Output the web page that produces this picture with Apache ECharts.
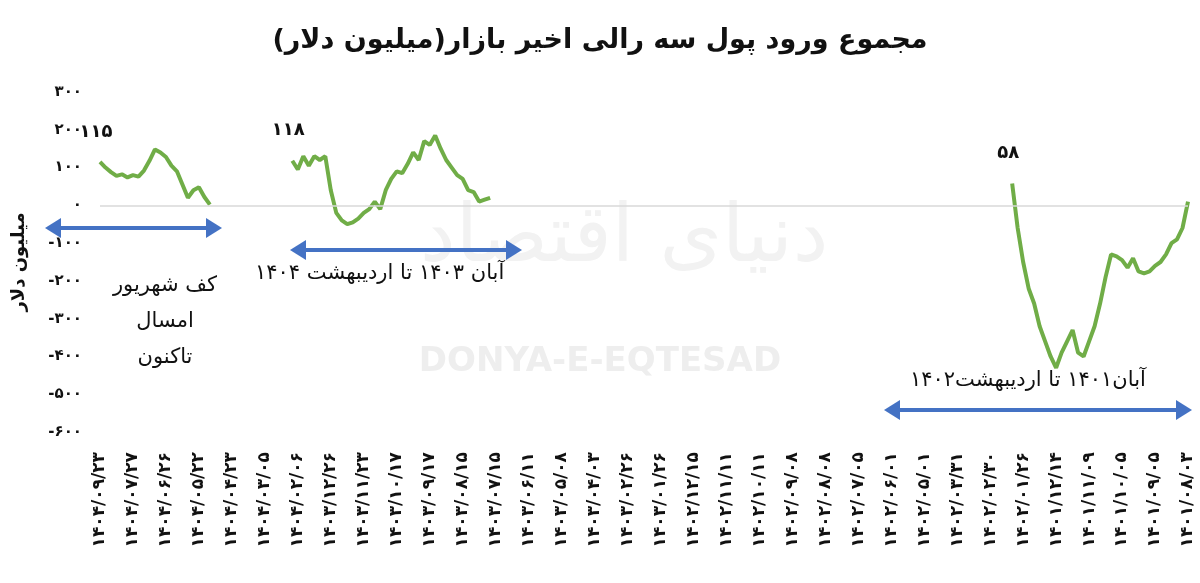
<!DOCTYPE html>
<html>
<head>
<meta charset="UTF-8">
<title>chart</title>
<script src="https://cdn.jsdelivr.net/npm/echarts@6/dist/echarts.min.js"></script>
<style>html,body{margin:0;padding:0;background:#fff}#main{width:1200px;height:583px}</style>
</head>
<body>
<div id="main"></div>
<script>
// tick dates, left to right (newest first)
var tickDates = ['۱۴۰۴/۰۹/۲۳','۱۴۰۴/۰۷/۲۷','۱۴۰۴/۰۶/۲۶','۱۴۰۴/۰۵/۲۲','۱۴۰۴/۰۴/۲۳','۱۴۰۴/۰۳/۰۵','۱۴۰۴/۰۲/۰۶',
  '۱۴۰۳/۱۲/۲۶','۱۴۰۳/۱۱/۲۳','۱۴۰۳/۱۰/۱۷','۱۴۰۳/۰۹/۱۷','۱۴۰۳/۰۸/۱۵','۱۴۰۳/۰۷/۱۵','۱۴۰۳/۰۶/۱۱','۱۴۰۳/۰۵/۰۸','۱۴۰۳/۰۴/۰۳',
  '۱۴۰۳/۰۲/۲۶','۱۴۰۳/۰۱/۲۶','۱۴۰۲/۱۲/۱۵','۱۴۰۲/۱۱/۱۱','۱۴۰۲/۱۰/۱۱','۱۴۰۲/۰۹/۰۸','۱۴۰۲/۰۸/۰۸','۱۴۰۲/۰۷/۰۵',
  '۱۴۰۲/۰۶/۰۱','۱۴۰۲/۰۵/۰۱','۱۴۰۲/۰۳/۳۱','۱۴۰۲/۰۲/۳۰','۱۴۰۲/۰۱/۲۶','۱۴۰۱/۱۲/۱۴','۱۴۰۱/۱۱/۰۹','۱۴۰۱/۱۰/۰۵',
  '۱۴۰۱/۰۹/۰۵','۱۴۰۱/۰۸/۰۳'];
var stepsPerTick = 6;

// three periods (values in million dollars), with start index on the sample axis
var seg1Start = 0;
var seg1 = [115,100,88,78,82,74,80,76,92,118,148,140,128,105,90,55,20,40,48,22,2];
var seg2Start = 35;
var seg2 = [118,95,130,105,130,120,130,40,-20,-40,-50,-45,-35,-20,-10,10,-10,40,70,90,85,110,140,120,170,160,185,150,120,100,80,70,40,35,10,15,20];
var seg3Start = 166;
var seg3 = [58,-60,-150,-220,-260,-320,-360,-400,-430,-390,-360,-330,-390,-400,-360,-320,-260,-190,-130,-135,-145,-165,-140,-175,-180,-175,-160,-150,-130,-100,-90,-60,10];

function fa(s){return String(s).replace(/\d/g,function(d){return '۰۱۲۳۴۵۶۷۸۹'[d];});}

var n = (tickDates.length - 1) * stepsPerTick + 1;
var cats = [];
for (var i = 0; i < n; i++) cats.push(i % stepsPerTick === 0 ? tickDates[i / stepsPerTick] : '');
var data = [];
for (var i = 0; i < n; i++) data.push('-');
var startPoints = [];
function put(start, arr){
  for (var k = 0; k < arr.length; k++) data[start + k] = arr[k];
  startPoints.push({coord: [start, arr[0]], value: fa(arr[0])});
}
put(seg1Start, seg1); put(seg2Start, seg2); put(seg3Start, seg3);

function arrow(x1, x2, y){
  var c = '#4472c4';
  return [
    {type: 'line', shape: {x1: x1 + 12, y1: y, x2: x2 - 12, y2: y}, style: {stroke: c, lineWidth: 4}},
    {type: 'polygon', shape: {points: [[x1, y], [x1 + 16, y - 10], [x1 + 16, y + 10]]}, style: {fill: c}},
    {type: 'polygon', shape: {points: [[x2, y], [x2 - 16, y - 10], [x2 - 16, y + 10]]}, style: {fill: c}}
  ];
}
var txt = {fontFamily: 'DejaVu Sans', fontSize: 21, fill: '#111'};

var chart = echarts.init(document.getElementById('main'));
chart.setOption({
  animation: false,
  title: {text: 'مجموع ورود پول سه رالی اخیر بازار(میلیون دلار)', left: 'center', top: 22,
    textStyle: {fontFamily: 'DejaVu Sans', fontSize: 27, fontWeight: 'bold', color: '#111'}},
  grid: {left: 100, right: 12, top: 92, bottom: 151},
  xAxis: {type: 'category', data: cats, boundaryGap: false,
    axisLine: {show: false}, axisTick: {show: false},
    axisLabel: {interval: 0, rotate: 90, fontSize: 17, fontWeight: 'bold', color: '#111', fontFamily: 'DejaVu Sans', margin: 20}},
  yAxis: {type: 'value', min: -600, max: 300, interval: 100,
    name: 'میلیون دلار', nameLocation: 'middle', nameGap: 72, nameRotate: 90,
    nameTextStyle: {fontFamily: 'DejaVu Sans', fontSize: 18, fontWeight: 'bold', color: '#111'},
    splitLine: {show: false}, axisLine: {show: false}, axisTick: {show: false},
    axisLabel: {formatter: function(v){return fa(v);}, fontSize: 15, fontWeight: 'bold', color: '#111', fontFamily: 'DejaVu Sans', margin: 18}},
  series: [{type: 'line', data: data, showSymbol: false, connectNulls: false,
    lineStyle: {color: '#70ad47', width: 4}, itemStyle: {color: '#70ad47'},
    markPoint: {silent: true, symbol: 'circle', symbolSize: 0,
      label: {show: true, position: 'top', offset: [-4, -16], formatter: '{c}',
        fontSize: 18, fontWeight: 'bold', color: '#111', fontFamily: 'DejaVu Sans'},
      data: startPoints},
    markLine: {silent: true, symbol: 'none', label: {show: false},
      lineStyle: {color: '#d9d9d9', type: 'solid', width: 1.5}, data: [{yAxis: 0}]}}],
  graphic: [].concat(
    [{type: 'text', left: 'center', top: 345, z: -1, style: {text: 'DONYA-E-EQTESAD', fontFamily: 'DejaVu Sans', fontSize: 34, fontWeight: 'bold', fill: '#eeeeee'}},
     {type: 'text', x: 420, y: 200, z: -1, style: {text: 'دنیای اقتصاد', fontFamily: 'DejaVu Sans', fontSize: 80, fill: '#f2f2f2'}}],
    arrow(45, 222, 228), arrow(290, 522, 250), arrow(884, 1192, 410),
    [{type: 'text', x: 165, y: 268, style: Object.assign({text: 'کف شهریور\nامسال\nتاکنون', lineHeight: 36, align: 'center'}, txt)},
     {type: 'text', x: 255, y: 263, style: Object.assign({text: 'آبان ۱۴۰۳ تا اردیبهشت ۱۴۰۴'}, txt)},
     {type: 'text', x: 910, y: 370, style: Object.assign({text: 'آبان۱۴۰۱ تا اردیبهشت۱۴۰۲'}, txt)}]
  )
});
</script>
</body>
</html>
